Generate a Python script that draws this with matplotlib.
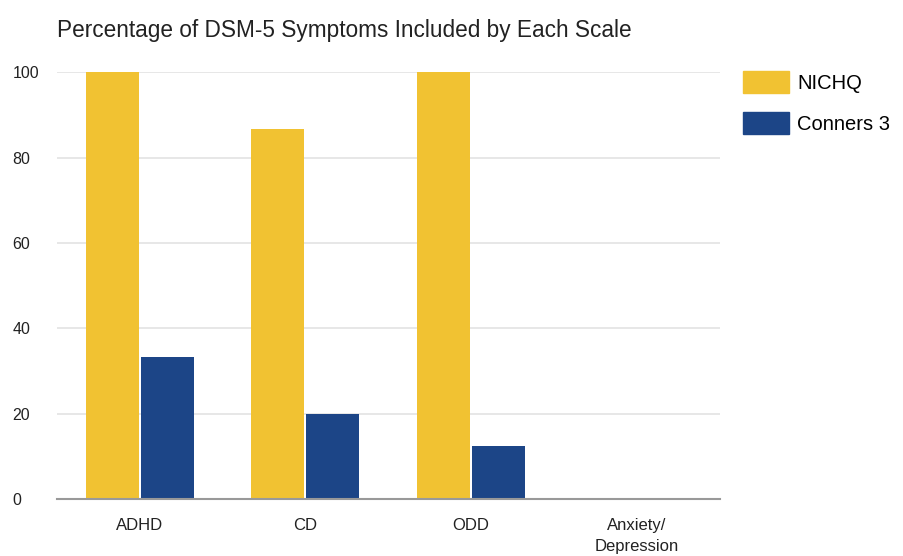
import numpy as np
import matplotlib
matplotlib.use('Agg')
import matplotlib.pyplot as plt
from matplotlib.patches import Patch

categories = ['ADHD', 'CD', 'ODD', 'Anxiety/\nDepression']
nichq = [100, 86.7, 100, 0]
conners = [33.3, 20, 12.5, 0]
series_names = ['NICHQ', 'Conners 3']
colors = ['#F1C232', '#1C4587']
yticks = [0, 20, 40, 60, 80, 100]

plt.rcParams['font.family'] = ['Liberation Sans', 'DejaVu Sans']

fig = plt.figure(figsize=(9.04, 5.56), dpi=100)
ax = fig.add_axes([0.063, 0.1025, 0.733, 0.7675])

x = np.arange(len(categories))
w = 0.32
ax.bar(x - w / 2 - 0.006, nichq, w, color=colors[0], zorder=3)
ax.bar(x + w / 2 + 0.006, conners, w, color=colors[1], zorder=3)

ax.set_xlim(-0.5, len(categories) - 0.5)
ax.set_ylim(0, 100)
ax.set_yticks(yticks)
ax.set_xticks(x)
ax.set_xticklabels(categories, fontsize=12, color='#222222', linespacing=1.5)
ax.tick_params(axis='y', labelsize=11.5, colors='#222222', length=0, pad=32)
ax.tick_params(axis='x', length=0, pad=14)
for t in ax.get_yticklabels():
    t.set_horizontalalignment('left')
ax.grid(axis='y', color='#e3e3e3', linewidth=1.2, zorder=0)
for s in ['top', 'right', 'left']:
    ax.spines[s].set_visible(False)
ax.spines['bottom'].set_color('#999999')
ax.spines['bottom'].set_linewidth(1.5)
ax.spines['bottom'].set_zorder(4)

fig.text(0.063, 0.945, 'Percentage of DSM-5 Symptoms Included by Each Scale',
         fontsize=16.3, color='#222222', va='center', ha='left')

handles = [Patch(color=c) for c in colors]
fig.legend(handles, series_names, loc='upper left', bbox_to_anchor=(743 / 904, 1 - 71 / 556),
           frameon=False, fontsize=14.5, handlelength=2.28, handleheight=1.3,
           handletextpad=0.4, labelspacing=0.95, borderpad=0, borderaxespad=0)

fig.savefig('out.png', dpi=100)
